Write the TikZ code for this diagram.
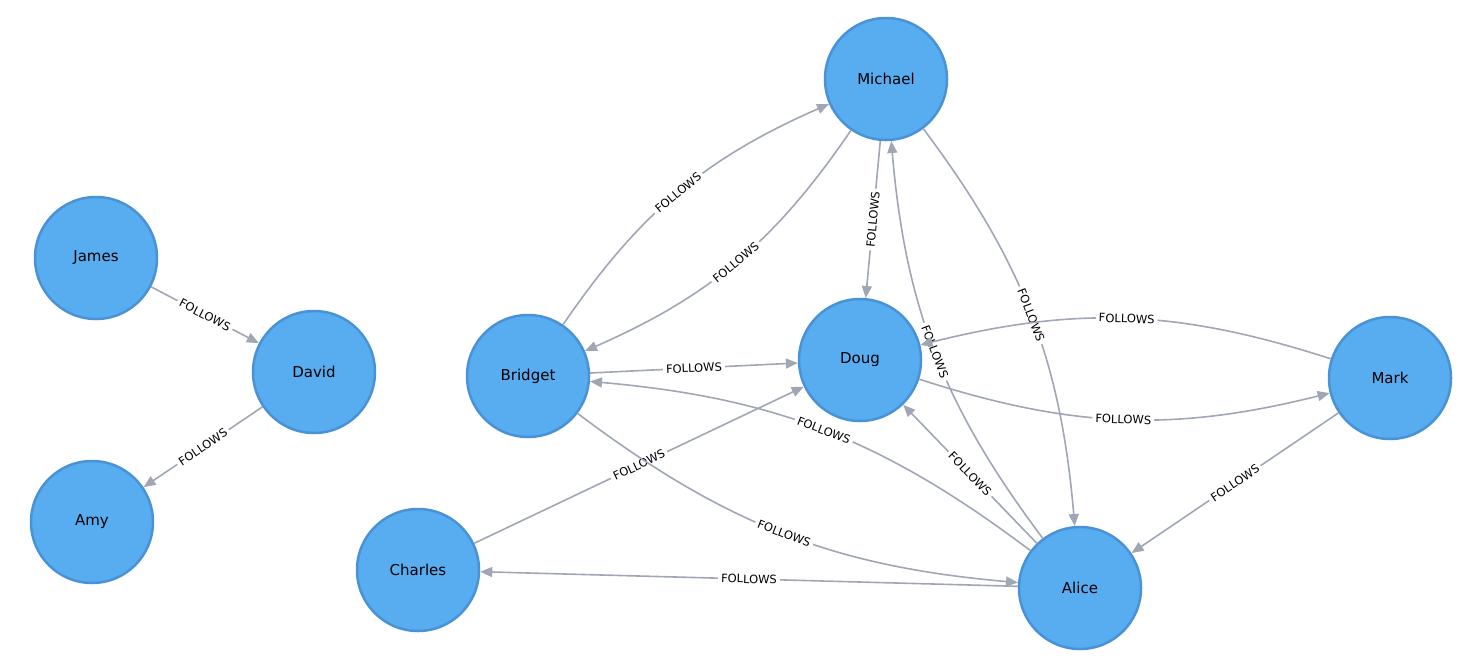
\documentclass[tikz,border=0pt]{standalone}
\usepackage{fontspec}
\setmainfont{DejaVu Sans}
\usetikzlibrary{arrows.meta}
\definecolor{nodefill}{RGB}{88,172,240}
\definecolor{nodeline}{RGB}{74,146,214}
\definecolor{relgray}{RGB}{160,166,180}
\begin{document}
\begin{tikzpicture}[x=1pt, y=-1pt,
    person/.style={circle, fill=nodefill, draw=nodeline, line width=2.5pt, minimum size=122pt, inner sep=0pt, font=\fontsize{15}{18}\selectfont},
    rel/.style={-{Triangle[length=12pt, width=10pt]}, draw=relgray, line width=1.6pt},
    lbl/.style={midway, sloped, fill=white, inner xsep=3pt, inner ysep=1pt, font=\fontsize{11.5}{13}\selectfont}]
    \useasboundingbox (0,0) rectangle (1482,670);

    % Define people
    \node[person] (J) at (96,258) {James};
    \node[person] (D) at (314,372) {David};
    \node[person] (Am) at (92,522) {Amy};
    \node[person] (M) at (886,79) {Michael};
    \node[person] (B) at (528,376) {Bridget};
    \node[person] (Do) at (860,360) {Doug};
    \node[person] (Mk) at (1390,378) {Mark};
    \node[person] (C) at (418,570) {Charles};
    \node[person] (Al) at (1080,588) {Alice};

    % Draw straight relations
    \draw[rel] (J) -- node[lbl] {FOLLOWS} (D);
    \draw[rel] (D) -- node[lbl] {FOLLOWS} (Am);
    \draw[rel] (M) -- node[lbl] {FOLLOWS} (Do);
    \draw[rel] (B) -- node[lbl] {FOLLOWS} (Do);
    \draw[rel] (C) -- node[lbl] {FOLLOWS} (Do);
    \draw[rel] (Al) -- node[lbl] {FOLLOWS} (Do);
    \draw[rel] (Al) -- node[lbl] {FOLLOWS} (C);
    \draw[rel] (Mk) -- node[lbl] {FOLLOWS} (Al);

    % Draw paired relations (curved)
    \draw[rel] (B) to[bend left=16] node[lbl] {FOLLOWS} (M);
    \draw[rel] (M) to[bend left=16] node[lbl] {FOLLOWS} (B);
    \draw[rel] (M) to[bend left=16] node[lbl] {FOLLOWS} (Al);
    \draw[rel] (Al) to[bend left=16] node[lbl] {FOLLOWS} (M);
    \draw[rel] (Mk) to[bend right=16] node[lbl] {FOLLOWS} (Do);
    \draw[rel] (Do) to[bend right=16] node[lbl] {FOLLOWS} (Mk);
    \draw[rel] (Al) to[bend right=16] node[lbl] {FOLLOWS} (B);
    \draw[rel] (B) to[bend right=16] node[lbl] {FOLLOWS} (Al);
\end{tikzpicture}
\end{document}
